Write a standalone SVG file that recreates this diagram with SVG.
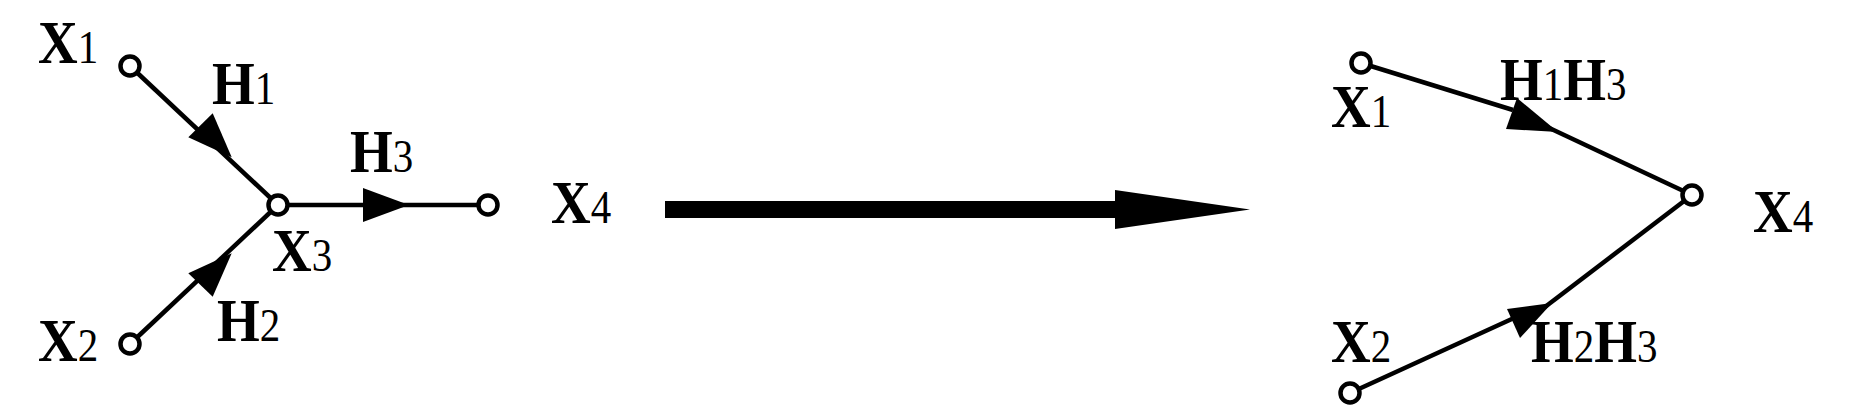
<svg xmlns="http://www.w3.org/2000/svg" width="1857" height="420" viewBox="0 0 1857 420">
<style>
.ln{stroke:#000;stroke-width:4.5;fill:none;stroke-linecap:butt}
.hd{fill:#000;stroke:none}
.nd{fill:#fff;stroke:#000;stroke-width:4.5}
.lb{font-family:"Liberation Serif","Times New Roman",serif;font-size:55px;font-weight:bold;fill:#000}
.sb{font-weight:normal;font-size:41px}
</style>
<rect width="1857" height="420" fill="#fff"/>
<g id="connectors">
  <line class="ln" x1="130" y1="66" x2="278" y2="205"/>
  <polygon class="hd" points="212.7,113.3 188.3,137.3 231.7,157.3"/>
  <line class="ln" x1="130" y1="344" x2="278" y2="205"/>
  <polygon class="hd" points="231.7,253.3 188.3,273.3 212.7,296.7"/>
  <line class="ln" x1="278" y1="205" x2="488" y2="205"/>
  <polygon class="hd" points="363,188 409,205 363,222"/>
  <rect class="hd" x="665" y="201" width="452" height="17"/>
  <polygon class="hd" points="1115,190 1250,209.5 1115,229"/>
  <line class="ln" x1="1361" y1="63" x2="1513" y2="110"/>
  <polygon class="hd" points="1517,98 1506,129 1558,132"/>
  <line class="ln" x1="1545" y1="126" x2="1692" y2="195"/>
  <line class="ln" x1="1350" y1="393" x2="1514" y2="318"/>
  <polygon class="hd" points="1507,309 1520,338 1552,303"/>
  <line class="ln" x1="1545" y1="307" x2="1692" y2="195"/>
</g>
<g id="L-X1"><circle class="nd" cx="130" cy="66" r="9.5"/><text class="lb" transform="translate(38,63) scale(1,1.12)">X<tspan class="sb">1</tspan></text></g>
<g id="L-X2"><circle class="nd" cx="130" cy="344" r="9.5"/><text class="lb" transform="translate(38,361) scale(1,1.12)">X<tspan class="sb">2</tspan></text></g>
<g id="L-X3"><circle class="nd" cx="278" cy="205" r="9.5"/><text class="lb" transform="translate(272,271) scale(1,1.12)">X<tspan class="sb">3</tspan></text></g>
<g id="L-X4"><circle class="nd" cx="488" cy="205" r="9.5"/><text class="lb" transform="translate(551,223) scale(1,1.12)">X<tspan class="sb">4</tspan></text></g>
<g id="L-H1"><text class="lb" transform="translate(212,104) scale(1,1.12)">H<tspan class="sb">1</tspan></text></g>
<g id="L-H2"><text class="lb" transform="translate(217,341) scale(1,1.12)">H<tspan class="sb">2</tspan></text></g>
<g id="L-H3"><text class="lb" transform="translate(350,172) scale(1,1.12)">H<tspan class="sb">3</tspan></text></g>
<g id="R-X1"><circle class="nd" cx="1361" cy="63" r="9.5"/><text class="lb" transform="translate(1331,127) scale(1,1.12)">X<tspan class="sb">1</tspan></text></g>
<g id="R-X2"><circle class="nd" cx="1350" cy="393" r="9.5"/><text class="lb" transform="translate(1331,362) scale(1,1.12)">X<tspan class="sb">2</tspan></text></g>
<g id="R-X4"><circle class="nd" cx="1692" cy="195" r="9.5"/><text class="lb" transform="translate(1753,232) scale(1,1.12)">X<tspan class="sb">4</tspan></text></g>
<g id="R-H1H3"><text class="lb" transform="translate(1500,100) scale(1,1.12)">H<tspan class="sb">1</tspan>H<tspan class="sb">3</tspan></text></g>
<g id="R-H2H3"><text class="lb" transform="translate(1531,362) scale(1,1.12)">H<tspan class="sb">2</tspan>H<tspan class="sb">3</tspan></text></g>
</svg>
